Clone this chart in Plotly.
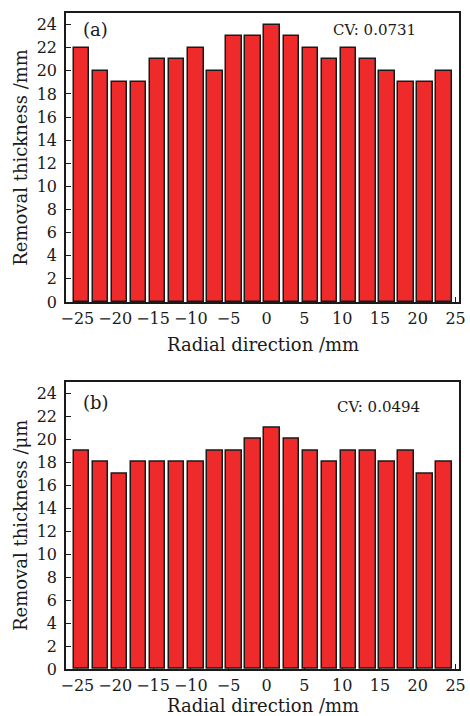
import plotly.graph_objects as go

# Data
positions = [-24.45, -21.93, -19.40, -16.89, -14.38, -11.87, -9.33, -6.81, -4.26, -1.75,
             0.75, 3.28, 5.79, 8.36, 10.87, 13.40, 15.91, 18.41, 20.94, 23.48]
thickness_a = [22, 20, 19, 19, 21, 21, 22, 20, 23, 23, 24, 23, 22, 21, 22, 21, 20, 19, 19, 20]
thickness_b = [19, 18, 17, 18, 18, 18, 18, 19, 19, 20, 21, 20, 19, 18, 19, 19, 18, 19, 17, 18]
x_ticks = [-25, -20, -15, -10, -5, 0, 5, 10, 15, 20, 25]
y_ticks = list(range(0, 25, 2))
cv_a = "CV: 0.0731"
cv_b = "CV: 0.0494"
x_title = "Radial direction /mm"

FONT = "DejaVu Serif"
RED = "#EE2A2A"
EDGE = "#1a1a1a"
TXT = "#1a1a1a"

fig = go.Figure()
fig.add_trace(go.Bar(x=positions, y=thickness_a, width=2.05, marker=dict(color=RED, line=dict(color=EDGE, width=1.5)),
                     xaxis="x", yaxis="y", showlegend=False))
fig.add_trace(go.Bar(x=positions, y=thickness_b, width=2.05, marker=dict(color=RED, line=dict(color=EDGE, width=1.5)),
                     xaxis="x2", yaxis="y2", showlegend=False))

common_x = dict(range=[-26.5, 25.45], tickvals=x_ticks, ticks="inside", ticklen=5, tickwidth=1.2,
                tickcolor=TXT, showline=True, linecolor=TXT, linewidth=1.5, mirror=True,
                showgrid=False, zeroline=False, tickfont=dict(family=FONT, size=16, color=TXT),
                ticklabelstandoff=1, layer="below traces", automargin=False)
common_y = dict(range=[0, 25], tickvals=y_ticks, ticks="inside", ticklen=5, tickwidth=1.2,
                tickcolor=TXT, showline=True, linecolor=TXT, linewidth=1.5, mirror=True,
                showgrid=False, zeroline=False, tickfont=dict(family=FONT, size=16, color=TXT),
                ticklabelstandoff=4, automargin=False)

fig.update_layout(
    width=470, height=716,
    margin=dict(l=66, r=11, t=13, b=47),
    plot_bgcolor="white", paper_bgcolor="white",
    bargap=0,
    xaxis=dict(domain=[0, 1], anchor="y", **common_x),
    yaxis=dict(domain=[0.5595, 1.0], anchor="x",
               title=dict(text="Removal thickness /mm", font=dict(family=FONT, size=18, color=TXT), standoff=4),
               **common_y),
    xaxis2=dict(domain=[0, 1], anchor="y2", **common_x),
    yaxis2=dict(domain=[0, 0.438], anchor="x2",
                title=dict(text="Removal thickness /\u03bcm", font=dict(family=FONT, size=18, color=TXT), standoff=4),
                **common_y),
    annotations=[
        dict(text=x_title, xref="x domain", yref="y domain", x=0.5, y=0, yshift=-43, showarrow=False,
             xanchor="center", yanchor="middle", font=dict(family=FONT, size=18, color=TXT)),
        dict(text=x_title, xref="x2 domain", yref="y2 domain", x=0.5, y=0, yshift=-36, showarrow=False,
             xanchor="center", yanchor="middle", font=dict(family=FONT, size=18, color=TXT)),
        dict(text="(a)", xref="x domain", yref="y domain", x=0.0756, y=0.942, showarrow=False,
             xanchor="center", yanchor="middle", font=dict(family=FONT, size=18, color=TXT)),
        dict(text=cv_a, xref="x domain", yref="y domain", x=0.786, y=0.942, showarrow=False,
             xanchor="center", yanchor="middle", font=dict(family=FONT, size=15, color=TXT)),
        dict(text="(b)", xref="x2 domain", yref="y2 domain", x=0.0756, y=0.926, showarrow=False,
             xanchor="center", yanchor="middle", font=dict(family=FONT, size=18, color=TXT)),
        dict(text=cv_b, xref="x2 domain", yref="y2 domain", x=0.796, y=0.913, showarrow=False,
             xanchor="center", yanchor="middle", font=dict(family=FONT, size=15, color=TXT)),
    ],
)

fig.write_html("out.html")
